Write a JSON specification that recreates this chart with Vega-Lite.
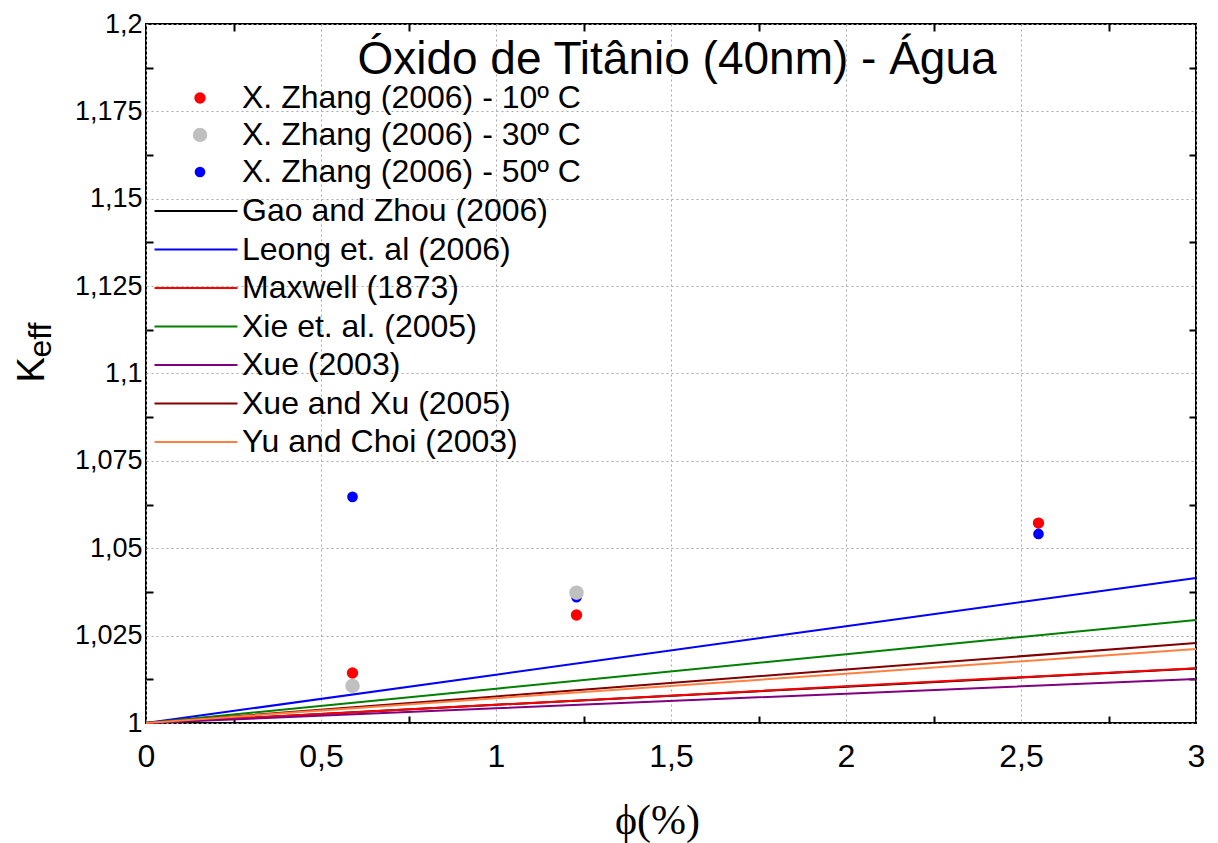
{
  "$schema": "https://vega.github.io/schema/vega-lite/v6.json",
  "autosize": {"type": "none"},
  "width": 1050,
  "height": 699,
  "padding": {"left": 146, "top": 24, "right": 22, "bottom": 120},
  "background": "white",
  "title": {"text": "Óxido de Titânio (40nm) - Água", "font": "Liberation Sans", "fontSize": 46, "fontWeight": "normal", "color": "black", "anchor": "middle", "frame": "group", "offset": -110, "baseline": "alphabetic", "dx": 6},
  "config": {"view": {"stroke": "black", "strokeWidth": 2}},
  "datasets": {
    "lines": [
      {"model": "Gao and Zhou (2006)", "phi": 0, "k": 1},
      {"model": "Gao and Zhou (2006)", "phi": 1, "k": 1.0052},
      {"model": "Gao and Zhou (2006)", "phi": 2, "k": 1.0104},
      {"model": "Gao and Zhou (2006)", "phi": 3, "k": 1.0156},
      {"model": "Leong et. al (2006)", "phi": 0, "k": 1},
      {"model": "Leong et. al (2006)", "phi": 1, "k": 1.0138},
      {"model": "Leong et. al (2006)", "phi": 2, "k": 1.0277},
      {"model": "Leong et. al (2006)", "phi": 3, "k": 1.0415},
      {"model": "Maxwell (1873)", "phi": 0, "k": 1},
      {"model": "Maxwell (1873)", "phi": 1, "k": 1.0052},
      {"model": "Maxwell (1873)", "phi": 2, "k": 1.0105},
      {"model": "Maxwell (1873)", "phi": 3, "k": 1.0157},
      {"model": "Xie et. al. (2005)", "phi": 0, "k": 1},
      {"model": "Xie et. al. (2005)", "phi": 1, "k": 1.0098},
      {"model": "Xie et. al. (2005)", "phi": 2, "k": 1.0197},
      {"model": "Xie et. al. (2005)", "phi": 3, "k": 1.0295},
      {"model": "Xue (2003)", "phi": 0, "k": 1},
      {"model": "Xue (2003)", "phi": 1, "k": 1.0042},
      {"model": "Xue (2003)", "phi": 2, "k": 1.0084},
      {"model": "Xue (2003)", "phi": 3, "k": 1.0126},
      {"model": "Xue and Xu (2005)", "phi": 0, "k": 1},
      {"model": "Xue and Xu (2005)", "phi": 1, "k": 1.0076},
      {"model": "Xue and Xu (2005)", "phi": 2, "k": 1.0153},
      {"model": "Xue and Xu (2005)", "phi": 3, "k": 1.0229},
      {"model": "Yu and Choi (2003)", "phi": 0, "k": 1},
      {"model": "Yu and Choi (2003)", "phi": 1, "k": 1.0071},
      {"model": "Yu and Choi (2003)", "phi": 2, "k": 1.0141},
      {"model": "Yu and Choi (2003)", "phi": 3, "k": 1.0212}
    ],
    "points": [
      {"series": "X. Zhang (2006) - 10º C", "phi": 0.59, "k": 1.0143},
      {"series": "X. Zhang (2006) - 10º C", "phi": 1.23, "k": 1.0309},
      {"series": "X. Zhang (2006) - 10º C", "phi": 2.55, "k": 1.0572},
      {"series": "X. Zhang (2006) - 50º C", "phi": 0.59, "k": 1.0647},
      {"series": "X. Zhang (2006) - 50º C", "phi": 1.23, "k": 1.036},
      {"series": "X. Zhang (2006) - 50º C", "phi": 2.55, "k": 1.0541},
      {"series": "X. Zhang (2006) - 30º C", "phi": 0.59, "k": 1.0106},
      {"series": "X. Zhang (2006) - 30º C", "phi": 1.23, "k": 1.0373}
    ]
  },
  "resolve": {"axis": {"x": "independent", "y": "independent"}},
  "layer": [
    {
      "data": {"name": "lines"},
      "transform": [{"filter": "datum.model === 'Gao and Zhou (2006)'"}],
      "mark": {"type": "line", "strokeWidth": 2},
      "encoding": {
        "x": {"field": "phi", "type": "quantitative", "scale": {"domain": [0, 3], "nice": false, "zero": false}, "axis": null},
        "y": {"field": "k", "type": "quantitative", "scale": {"domain": [1, 1.2], "nice": false, "zero": false},
          "axis": {"orient": "left", "title": "eff", "titleFont": "Liberation Sans", "titleFontSize": 32, "titleFontWeight": "normal", "titleColor": "black", "titleAngle": -90, "titleAlign": "left", "titleBaseline": "alphabetic", "titleX": -96, "titleY": 333, "labels": false, "ticks": false, "domain": false, "grid": false}},
        "stroke": {"field": "model", "type": "nominal",
          "scale": {"domain": ["Gao and Zhou (2006)", "Leong et. al (2006)", "Maxwell (1873)", "Xie et. al. (2005)", "Xue (2003)", "Xue and Xu (2005)", "Yu and Choi (2003)"],
                    "range": ["#000000", "#0000ff", "#ff0000", "#008000", "#800080", "#800000", "#ff8040"]},
          "legend": {"title": null, "orient": "none", "legendX": 34, "legendY": 171, "direction": "vertical", "symbolType": "M-4,0L4,0", "symbolSize": 430, "symbolStrokeWidth": 2, "labelOffset": 30, "labelFont": "Liberation Sans", "labelFontSize": 32, "labelColor": "black", "labelLimit": 1000, "rowPadding": 6.5, "padding": 0}}
      }
    },
    {
      "data": {"name": "lines"},
      "transform": [{"filter": "datum.model !== 'Gao and Zhou (2006)'"}],
      "mark": {"type": "line", "strokeWidth": 2},
      "encoding": {
        "x": {"field": "phi", "type": "quantitative", "scale": {"domain": [0, 3], "nice": false, "zero": false},
          "axis": {"orient": "bottom", "values": [0, 0.25, 0.5, 0.75, 1, 1.25, 1.5, 1.75, 2, 2.25, 2.5, 2.75, 3],
            "labelExpr": "abs(datum.value*2-round(datum.value*2))<0.01 ? replace(format(datum.value,'~g'),'.',',') : ''",
            "labelFont": "Liberation Sans", "labelFontSize": 32, "labelColor": "black", "labelPadding": 25, "labelFlush": false, "labelOverlap": false,
            "tickSize": -7, "tickColor": "black", "tickWidth": 2,
            "tickOpacity": {"condition": {"test": "abs(datum.value*2-round(datum.value*2))<0.01", "value": 0}, "value": 1},
            "grid": true, "gridDash": [2, 3], "gridColor": "#a8a8a8", "gridWidth": 1,
            "gridOpacity": {"condition": {"test": "abs(datum.value*2-round(datum.value*2))<0.01", "value": 1}, "value": 0},
            "domain": false,
            "title": "ϕ(%)", "titleFont": "Liberation Serif", "titleFontSize": 42, "titleFontWeight": "normal", "titleColor": "black", "titleX": 511, "titleY": 110, "titleBaseline": "alphabetic", "titleAlign": "center"}},
        "y": {"field": "k", "type": "quantitative", "scale": {"domain": [1, 1.2], "nice": false, "zero": false},
          "axis": {"orient": "left", "values": [1, 1.0125, 1.025, 1.0375, 1.05, 1.0625, 1.075, 1.0875, 1.1, 1.1125, 1.125, 1.1375, 1.15, 1.1625, 1.175, 1.1875, 1.2],
            "labelExpr": "abs(datum.value*40-round(datum.value*40))<0.01 ? replace(format(datum.value,'~g'),'.',',') : ''",
            "labelFont": "Liberation Sans", "labelFontSize": 27, "labelColor": "black", "labelPadding": 11, "labelFlush": false, "labelOverlap": false,
            "tickSize": -7, "tickColor": "black", "tickWidth": 2,
            "tickOpacity": {"condition": {"test": "abs(datum.value*40-round(datum.value*40))<0.01", "value": 0}, "value": 1},
            "grid": true, "gridDash": [2, 3], "gridColor": "#a8a8a8", "gridWidth": 1,
            "gridOpacity": {"condition": {"test": "abs(datum.value*40-round(datum.value*40))<0.01", "value": 1}, "value": 0},
            "domain": false,
            "title": "K", "titleFont": "Liberation Sans", "titleFontSize": 38, "titleFontWeight": "normal", "titleColor": "black", "titleAngle": -90, "titleAlign": "left", "titleBaseline": "alphabetic", "titleX": -103, "titleY": 358}},
        "stroke": {"field": "model", "type": "nominal",
          "scale": {"domain": ["Gao and Zhou (2006)", "Leong et. al (2006)", "Maxwell (1873)", "Xie et. al. (2005)", "Xue (2003)", "Xue and Xu (2005)", "Yu and Choi (2003)"],
                    "range": ["#000000", "#0000ff", "#ff0000", "#008000", "#800080", "#800000", "#ff8040"]},
          "legend": {"title": null, "orient": "none", "legendX": 34, "legendY": 171, "direction": "vertical", "symbolType": "M-4,0L4,0", "symbolSize": 430, "symbolStrokeWidth": 2, "labelOffset": 30, "labelFont": "Liberation Sans", "labelFontSize": 32, "labelColor": "black", "labelLimit": 1000, "rowPadding": 6.5, "padding": 0}}
      }
    },
    {
      "data": {"name": "points"},
      "mark": {"type": "point", "filled": true, "opacity": 1, "strokeWidth": 0},
      "encoding": {
        "x": {"field": "phi", "type": "quantitative", "scale": {"domain": [0, 3], "nice": false, "zero": false},
          "axis": {"orient": "top", "values": [0.25, 0.75, 1.25, 1.75, 2.25, 2.75], "labels": false, "tickSize": -7, "tickColor": "black", "tickWidth": 2, "grid": false, "domain": false, "title": null}},
        "y": {"field": "k", "type": "quantitative", "scale": {"domain": [1, 1.2], "nice": false, "zero": false},
          "axis": {"orient": "right", "values": [1.0125, 1.0375, 1.0625, 1.0875, 1.1125, 1.1375, 1.1625, 1.1875], "labels": false, "tickSize": -7, "tickColor": "black", "tickWidth": 2, "grid": false, "domain": false, "title": null}},
        "fill": {"field": "series", "type": "nominal",
          "scale": {"domain": ["X. Zhang (2006) - 10º C", "X. Zhang (2006) - 30º C", "X. Zhang (2006) - 50º C"], "range": ["#ff0000", "#c0c0c0", "#0000ff"]},
          "legend": {"title": null, "orient": "none", "legendX": 38, "legendY": 58, "direction": "vertical", "labelOffset": 26, "labelFont": "Liberation Sans", "labelFontSize": 32, "labelColor": "black", "labelLimit": 1000, "rowPadding": 5, "padding": 0, "symbolStrokeWidth": 0, "symbolOpacity": 1}},
        "size": {"field": "series", "type": "nominal",
          "scale": {"type": "ordinal", "domain": ["X. Zhang (2006) - 10º C", "X. Zhang (2006) - 30º C", "X. Zhang (2006) - 50º C"], "range": [130, 210, 115]},
          "legend": {"title": null, "orient": "none", "legendX": 38, "legendY": 58, "direction": "vertical", "labelOffset": 26, "labelFont": "Liberation Sans", "labelFontSize": 32, "labelColor": "black", "labelLimit": 1000, "rowPadding": 5, "padding": 0, "symbolStrokeWidth": 0, "symbolOpacity": 1}}
      }
    }
  ]
}
